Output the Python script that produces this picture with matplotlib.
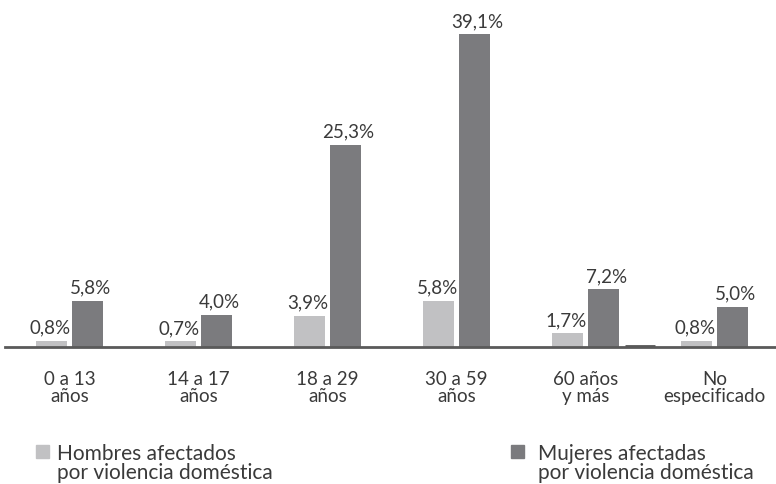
import numpy as np
import matplotlib.pyplot as plt
from matplotlib.patches import Rectangle

plt.rcParams['font.family'] = ['Lato', 'DejaVu Sans']

categorias = ['0 a 13\naños', '14 a 17\naños', '18 a 29\naños',
              '30 a 59\naños', '60 años\ny más', 'No\nespecificado']
hombres = [0.8, 0.7, 3.9, 5.8, 1.7, 0.8]
mujeres = [5.8, 4.0, 25.3, 39.1, 7.2, 5.0]
etiquetas_hombres = ['0,8%', '0,7%', '3,9%', '5,8%', '1,7%', '0,8%']
etiquetas_mujeres = ['5,8%', '4,0%', '25,3%', '39,1%', '7,2%', '5,0%']
leyenda = ['Hombres afectados\npor violencia doméstica',
           'Mujeres afectadas\npor violencia doméstica']

col_h = '#c1c1c3'
col_m = '#7b7b7e'
texto = '#3a3a3a'

W, H = 776, 484
eje_y = 347          # posición del eje en píxeles (desde arriba)
fig = plt.figure(figsize=(W / 100, H / 100), dpi=100)
ax = fig.add_axes([0, (H - eje_y) / H, 1, eje_y / H])

x = np.arange(len(categorias))
ancho = 0.24
sep = 0.14
ax.bar(x - sep, hombres, ancho, color=col_h)
ax.bar(x + sep, mujeres, ancho, color=col_m)

for xi, v, t in zip(x - sep, hombres, etiquetas_hombres):
    ax.annotate(t, (xi, v), xytext=(-1, 3), textcoords='offset points',
                ha='center', va='bottom', fontsize=13.5, color=texto)
for xi, v, t in zip(x + sep, mujeres, etiquetas_mujeres):
    ax.annotate(t, (xi, v), xytext=(2, 3), textcoords='offset points',
                ha='center', va='bottom', fontsize=13.5, color=texto)

# pequeño trazo oscuro junto al grupo de 60 años
ax.hlines(0.12, 4.31, 4.54, color='#555555', linewidth=2)

ax.set_xlim(-69.5 / 129, (W - 69.5) / 129)
ax.set_ylim(0, eje_y / 8.0)
ax.axhline(0, xmin=5 / W, xmax=1, color='#5a5a5a', linewidth=2, clip_on=False)

for s in ax.spines.values():
    s.set_visible(False)
ax.set_yticks([])
ax.set_xticks(x)
ax.set_xticklabels(categorias, fontsize=13.5, color=texto, linespacing=1.0)
ax.tick_params(axis='x', length=0, pad=17)
ax.patch.set_alpha(0)

# leyenda
for (px, tx), lab, c in zip([(36, 57), (511, 538)], leyenda, [col_h, col_m]):
    fig.add_artist(Rectangle((px / W, (H - 458) / H), 13 / W, 13 / H,
                             transform=fig.transFigure, color=c))
    fig.text(tx / W, (H - 444) / H, lab, fontsize=15, color=texto,
             ha='left', va='top', linespacing=0.95)

fig.savefig('out.png', dpi=100)
